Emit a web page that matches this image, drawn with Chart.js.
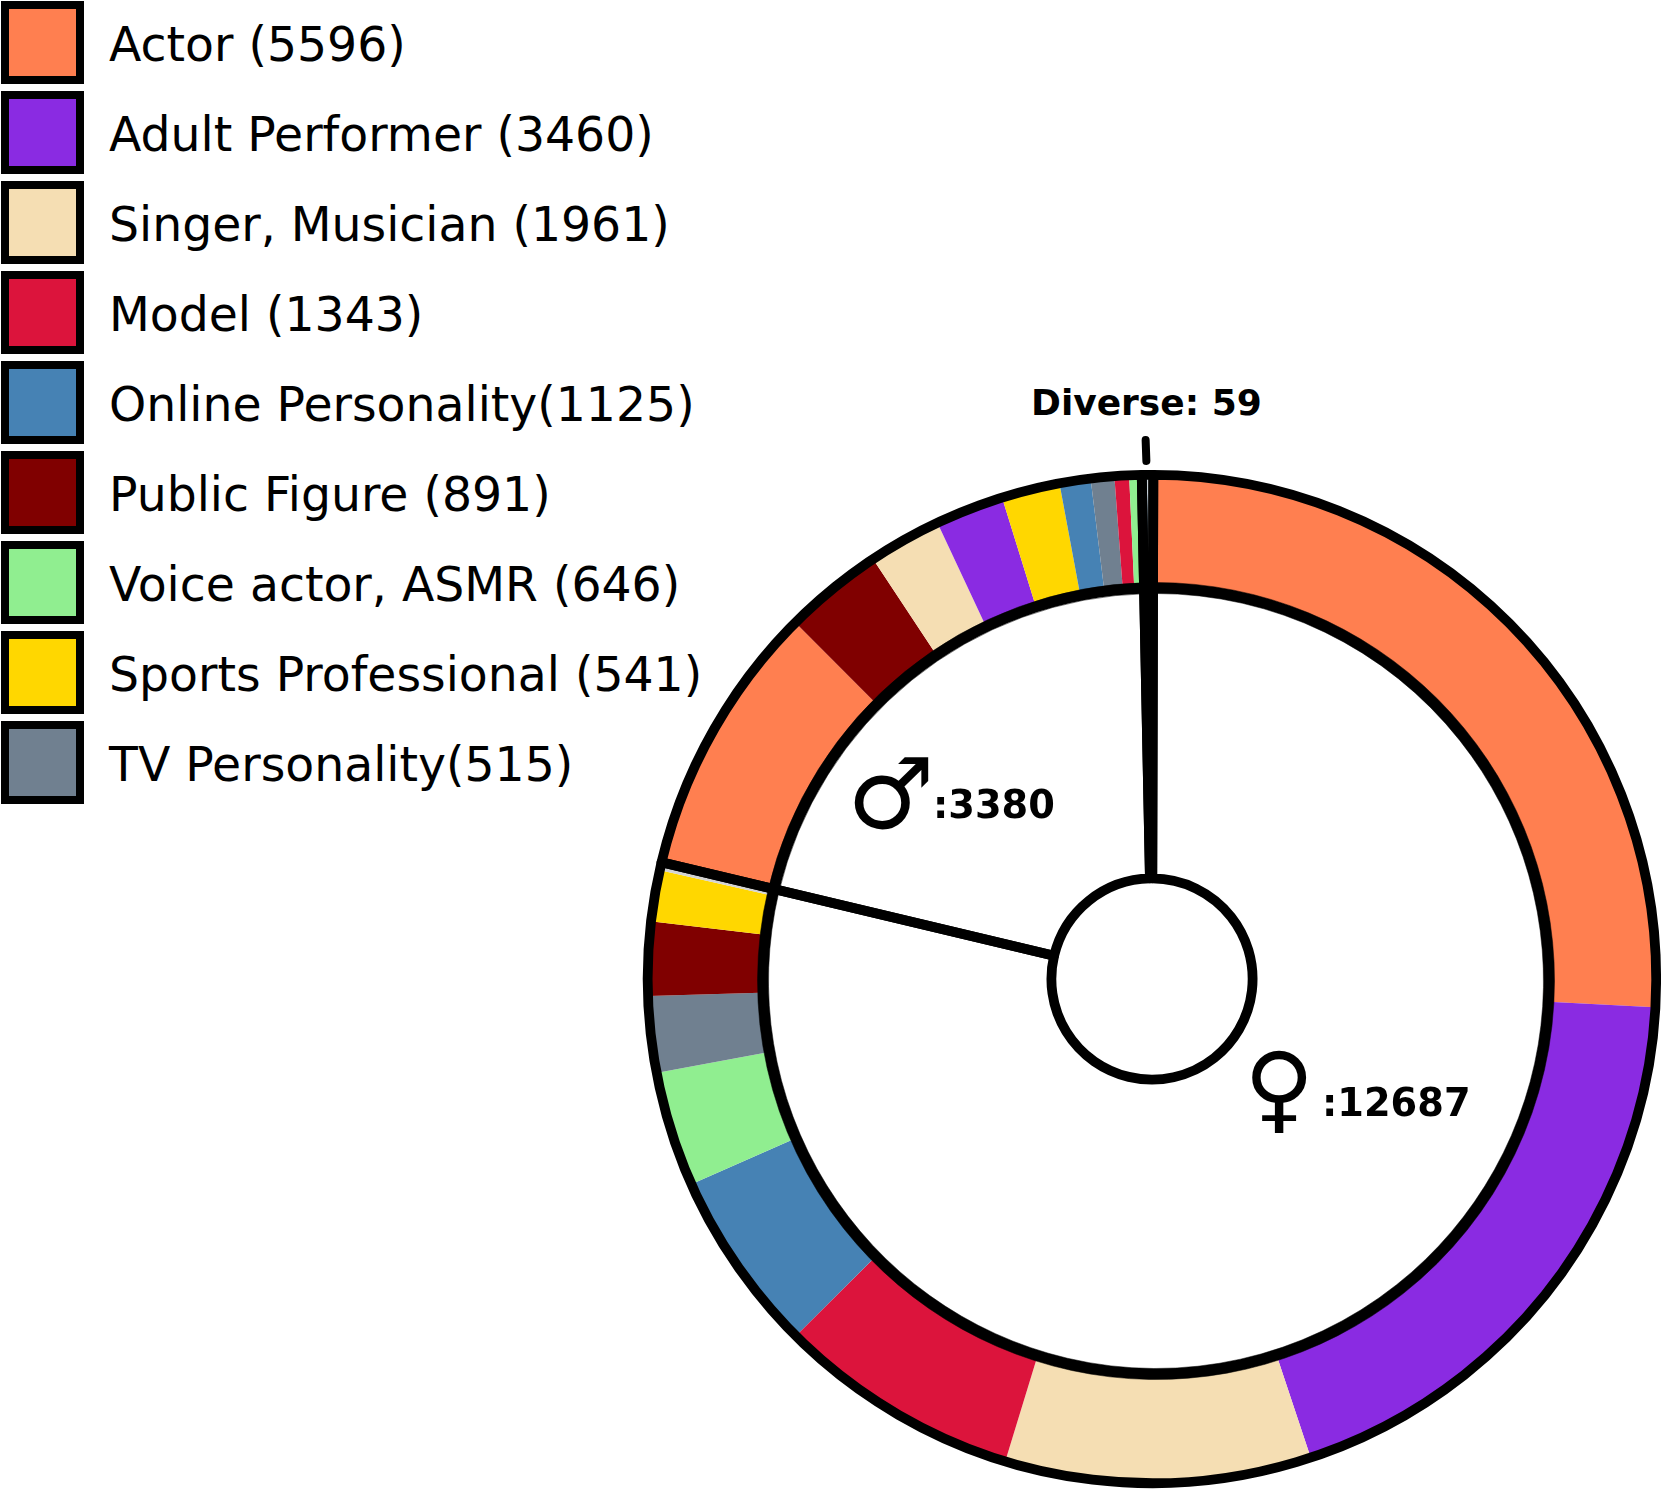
<!DOCTYPE html>
<html>
<head>
<meta charset="utf-8">
<title>Occupations by gender</title>
<script src="https://cdn.jsdelivr.net/npm/chart.js@4"></script>
<style>
  html, body { margin: 0; padding: 0; background: #fff; overflow: hidden; height: 1491px; }
  body { position: relative; width: 1661px; font-family: "DejaVu Sans", sans-serif; color: #000; }
  canvas { position: absolute; }
  .legend-row { position: absolute; left: 0; height: 90px; }
  .swatch { position: absolute; left: 1px; top: 1px; width: 67px; height: 67px; border: 8px solid #000; }
  .legend-text { position: absolute; left: 109px; top: 17px; font-size: 47.3px; line-height: 56px; white-space: nowrap; }
  .note { position: absolute; font-weight: bold; white-space: nowrap; line-height: 1; }
  #tick { position: absolute; left: 1142px; top: 436px; width: 8px; height: 29px; background: #000; border-radius: 4px; transform: rotate(-2deg); }
</style>
</head>
<body>
<div id="legend"></div>
<canvas id="ringChart" width="1024" height="1024"></canvas>
<canvas id="lineChart" width="1024" height="1024"></canvas>
<canvas id="genderChart" width="1024" height="1024"></canvas>
<div id="tick"></div>
<div class="note" style="left:1031px;top:385px;font-size:36px">Diverse: 59</div>
<div class="note" style="left:847px;top:745px;font-size:98px">♂</div>
<div class="note" style="left:933px;top:786px;font-size:38.3px">:3380</div>
<div class="note" style="left:1244px;top:1040px;font-size:96px">♀</div>
<div class="note" style="left:1322px;top:1084px;font-size:38.3px">:12687</div>

<script>
const $ = id => document.getElementById(id);

// legend
const legendLabels = ['Actor (5596)', 'Adult Performer (3460)', 'Singer, Musician (1961)', 'Model (1343)',
  'Online Personality(1125)', 'Public Figure (891)', 'Voice actor, ASMR (646)', 'Sports Professional (541)', 'TV Personality(515)'];
const legendColors = ['#FF7F50', '#8A2BE2', '#F5DEB3', '#DC143C', '#4682B4', '#800000', '#90EE90', '#FFD700', '#708090'];

// inner wedges
const genderLabels = ['Female', 'Male', 'Diverse'];
const genderValues = [12687, 3380, 59];

// outer ring, clockwise from the top
const femaleLabels = ['Actor', 'Adult Performer', 'Singer, Musician', 'Model', 'Online Personality', 'Voice actor, ASMR', 'TV Personality', 'Public Figure', 'Sports Professional', 'Other'];
const femaleValues = [4165, 3073, 1586, 1259, 945, 596, 394, 381, 264, 24];
const femaleColors = ['#FF7F50', '#8A2BE2', '#F5DEB3', '#DC143C', '#4682B4', '#90EE90', '#708090', '#800000', '#FFD700', '#D3D3D3'];

const maleLabels = ['Actor', 'Public Figure', 'Singer, Musician', 'Adult Performer', 'Sports Professional', 'Online Personality', 'TV Personality', 'Model', 'Voice actor, ASMR', 'Other'];
const maleValues = [1430, 510, 375, 352, 300, 160, 121, 75, 48, 9];
const maleColors = ['#FF7F50', '#800000', '#F5DEB3', '#8A2BE2', '#FFD700', '#4682B4', '#708090', '#DC143C', '#90EE90', '#D3D3D3'];

const diverseLabels = ['Actor', 'Adult Performer', 'Model', 'Online Personality', 'Other'];
const diverseValues = [9, 9, 6, 11, 24];
const diverseColors = ['#FF7F50', '#8A2BE2', '#DC143C', '#4682B4', '#D3D3D3'];

// geometry, the three circles are not quite concentric in the original
const canvasSize = 1024;
const ringX = 1151.8, ringY = 980.8, ringOuter = 503, ringInner = 392;
const lineX = 1155.8, lineY = 980.5, lineOuter = 398.5, lineInner = 387.5;
const genderX = 1151.5, genderY = 979.4, genderOuter = 504.2, holeRadius = 100.6, lineWidth = 9.8, genderRotation = 0.15;

legendLabels.forEach((label, i) => {
  const row = document.createElement('div');
  row.className = 'legend-row';
  row.style.top = (i * 90) + 'px';
  row.innerHTML = `<div class="swatch" style="background:${legendColors[i]}"></div><div class="legend-text">${label}</div>`;
  $('legend').appendChild(row);
});

function place(id, x, y) {
  $(id).style.left = (x - canvasSize / 2) + 'px';
  $(id).style.top = (y - canvasSize / 2) + 'px';
}
place('ringChart', ringX, ringY);
place('lineChart', lineX, lineY);
place('genderChart', genderX, genderY);

const baseOptions = {
  responsive: false,
  animation: false,
  plugins: { legend: { display: false }, tooltip: { enabled: false } }
};

new Chart($('ringChart'), {
  type: 'doughnut',
  data: {
    labels: [...femaleLabels, ...maleLabels, ...diverseLabels],
    datasets: [{
      data: [...femaleValues, ...maleValues, ...diverseValues],
      backgroundColor: [...femaleColors, ...maleColors, ...diverseColors],
      borderWidth: 0
    }]
  },
  options: {
    ...baseOptions,
    radius: ringOuter,
    cutout: (100 * ringInner / ringOuter) + '%'
  }
});

new Chart($('lineChart'), {
  type: 'doughnut',
  data: {
    labels: genderLabels,
    datasets: [{ data: genderValues, backgroundColor: '#000', borderColor: '#000', borderWidth: 0.5 }]
  },
  options: {
    ...baseOptions,
    radius: lineOuter,
    cutout: (100 * lineInner / lineOuter) + '%'
  }
});

new Chart($('genderChart'), {
  type: 'doughnut',
  data: {
    labels: genderLabels,
    datasets: [{
      data: genderValues,
      backgroundColor: 'rgba(0,0,0,0)',
      borderColor: '#000',
      borderWidth: lineWidth,
      borderJoinStyle: 'round'
    }]
  },
  options: {
    ...baseOptions,
    radius: genderOuter,
    rotation: genderRotation,
    cutout: (100 * holeRadius / genderOuter) + '%'
  }
});
</script>
</body>
</html>
